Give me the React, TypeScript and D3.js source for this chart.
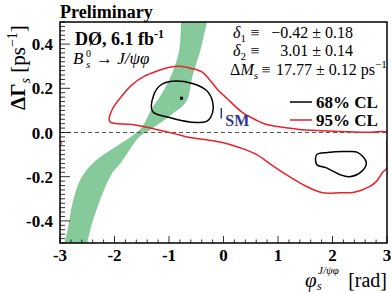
import * as d3 from "d3";

const W = 392;
const H = 292;
const margin = { top: 22, right: 5, bottom: 49, left: 60 };

// phi_s [rad], Delta Gamma_s [ps^-1]
const bandLeft: [number, number][] = [
  [-0.78, 0.55], [-0.81, 0.377], [-0.95, 0.264], [-1.14, 0.173], [-1.3, 0.114],
  [-1.5, 0.023], [-1.6, 0.0], [-1.69, -0.018], [-2.0, -0.068], [-2.37, -0.132],
  [-2.61, -0.205], [-2.77, -0.318], [-2.86, -0.441], [-2.98, -0.55],
];
const bandRight: [number, number][] = [
  [-0.26, 0.55], [-0.42, 0.377], [-0.57, 0.255], [-0.68, 0.141], [-0.95, 0.082],
  [-1.39, 0.005], [-1.54, -0.018], [-1.87, -0.132], [-2.06, -0.191], [-2.31, -0.336],
  [-2.46, -0.455], [-2.53, -0.55],
];

const contour68a: [number, number][] = [
  [-1.3, 0.095], [-1.28, 0.17], [-1.15, 0.215], [-0.94, 0.232], [-0.57, 0.222], [-0.31, 0.19],
  [-0.2, 0.14], [-0.2, 0.09], [-0.31, 0.05], [-0.62, 0.048], [-0.99, 0.068],
];
const contour68b: [number, number][] = [
  [1.71, -0.1], [1.91, -0.09], [2.26, -0.086], [2.46, -0.09], [2.62, -0.136],
  [2.53, -0.177], [2.31, -0.2], [2.13, -0.19], [1.89, -0.16], [1.71, -0.145],
];
const contour95: [number, number][] = [
  [-2.09, 0.05], [-2.04, 0.105], [-1.87, 0.164], [-1.67, 0.218], [-1.45, 0.255],
  [-1.23, 0.277], [-0.99, 0.295], [-0.81, 0.3], [-0.59, 0.29], [-0.39, 0.273],
  [-0.26, 0.24], [-0.11, 0.195], [0.06, 0.155], [0.35, 0.09], [0.57, 0.06],
  [0.79, 0.036], [1.12, 0.023], [1.39, 0.014], [2.13, 0.005], [2.7, 0.001],
  [3.0, 0.0], [3.0, -0.05], [3.0, -0.1], [3.0, -0.16], [2.92, -0.18],
  [2.81, -0.22], [2.68, -0.245], [2.4, -0.27], [2.13, -0.273], [1.82, -0.273],
  [1.49, -0.24], [1.21, -0.2], [0.9, -0.15], [0.61, -0.1], [0.29, -0.068],
  [-0.02, -0.045], [-0.35, -0.032], [-0.62, -0.023], [-0.9, -0.005], [-1.23, 0.014],
  [-1.67, 0.036],
];
const contour95wrap: [number, number][] = [[-3.0, -0.035], [-2.97, -0.045], [-2.99, -0.06]];

const bestFit: [number, number] = [-0.77, 0.155];
const sm = { phi: -0.04, dg: 0.087, err: 0.024 };

const xTickLabels = [-3, -2, -1, 0, 1, 2, 3];
const yTickLabels = ["-0.4", "-0.2", "0.0", "0.2", "0.4"];
const params = [
  { sym: "δ", sub: "1", value: "−0.42 ± 0.18" },
  { sym: "δ", sub: "2", value: "3.01 ± 0.14" },
];

const FONT = "Liberation Serif";

export default function App() {
  const x = d3.scaleLinear([-3, 3], [margin.left, W - margin.right]);
  const y = d3.scaleLinear([-0.5, 0.5], [H - margin.bottom, margin.top]);
  const [x0, x1] = x.range();
  const [y0, y1] = y.range();

  const closed = d3.line<[number, number]>()
    .x(d => x(d[0]))
    .y(d => y(d[1]))
    .curve(d3.curveCatmullRomClosed.alpha(0.5));
  const open = d3.line<[number, number]>()
    .x(d => x(d[0]))
    .y(d => y(d[1]))
    .curve(d3.curveCatmullRom.alpha(0.5));

  const bandPath = open(bandLeft)! + "L" + open([...bandRight].reverse())!.slice(1) + "Z";

  const yMinor = d3.range(-0.5, 0.5001, 0.02);
  const xMinor = d3.range(-3, 3.0001, 0.2);

  return (
    <svg width={W} height={H} style={{ position: "absolute", left: 0, top: 0, background: "#fff" }}>
      <defs>
        <clipPath id="frame">
          <rect x={x0} y={y1} width={x1 - x0} height={y0 - y1} />
        </clipPath>
      </defs>
      <g clipPath="url(#frame)">
        <path d={bandPath} fill="#86c99a" />
        <line x1={x0} x2={x1} y1={y(0)} y2={y(0)} stroke="#444" strokeWidth={0.9} strokeDasharray="4,3" />
        <path d={closed(contour95)!} fill="none" stroke="#e8222a" strokeWidth={1.5} />
        <path d={open(contour95wrap)!} fill="none" stroke="#e8222a" strokeWidth={1} />
        <path d={closed(contour68a)!} fill="none" stroke="#000" strokeWidth={1.5} />
        <path d={closed(contour68b)!} fill="none" stroke="#000" strokeWidth={1.5} />
        <rect x={x(bestFit[0]) - 1.5} y={y(bestFit[1]) - 1.5} width={3} height={3} fill="#000" />
      </g>

      {/* SM point */}
      <line x1={x(sm.phi)} x2={x(sm.phi)} y1={y(sm.dg - sm.err)} y2={y(sm.dg + sm.err)} stroke="#2b3990" strokeWidth={1.5} />
      <text fontFamily={FONT} x={x(sm.phi) + 4} y={126} fontSize={16} fontWeight="bold" fill="#2b3990">SM</text>

      {/* frame & ticks */}
      <rect x={x0} y={y1} width={x1 - x0} height={y0 - y1} fill="none" stroke="#000" strokeWidth={1.5} />
      {yMinor.map((v, i) => {
        const major = Math.abs(Math.round(v * 10) / 10 - v) < 1e-6 && Math.round(v * 10) % 2 === 0;
        return <line key={"yt" + i} x1={x0} x2={x0 + (major ? 10 : 5)} y1={y(v)} y2={y(v)} stroke="#000" strokeWidth={0.8} />;
      })}
      {xMinor.map((v, i) => {
        const major = Math.abs(Math.round(v) - v) < 1e-6;
        return <line key={"xt" + i} x1={x(v)} x2={x(v)} y1={y0} y2={y0 - (major ? 7 : 3.5)} stroke="#000" strokeWidth={0.8} />;
      })}
      {yTickLabels.map(t => (
        <text fontFamily={FONT} key={t} x={53} y={y(+t) + 6} textAnchor="end" fontSize={17} fontWeight="bold">{t}</text>
      ))}
      {xTickLabels.map(t => (
        <text fontFamily={FONT} key={t} x={x(t)} y={261} textAnchor="middle" fontSize={17} fontWeight="bold">{t}</text>
      ))}

      {/* axis titles */}
      <text fontFamily={FONT} transform="translate(25,110) rotate(-90)" fontSize={21}>
        <tspan fontWeight="bold">ΔΓ</tspan>
        <tspan fontSize={14} dy={5} fontStyle="italic">s</tspan>
        <tspan dy={-5}> [ps</tspan>
        <tspan fontSize={14} dy={-8}>−1</tspan>
        <tspan dy={8}>]</tspan>
      </text>
      <text fontFamily={FONT} x={305} y={287} fontSize={21} fontStyle="italic">φ</text>
      <text fontFamily={FONT} x={317} y={290} fontSize={12} fontStyle="italic">s</text>
      <text fontFamily={FONT} x={318} y={274} fontSize={11} fontStyle="italic">J/ψφ</text>
      <text fontFamily={FONT} x={387} y={287} fontSize={20} textAnchor="end">[rad]</text>

      {/* annotations */}
      <text fontFamily={FONT} x={60} y={18} fontSize={18} fontWeight="bold">Preliminary</text>
      <text fontFamily={FONT} x={75} y={45} fontSize={18} fontWeight="bold">
        DØ, 6.1 fb<tspan fontSize={12} dy={-7}>-1</tspan>
      </text>
      <text fontFamily={FONT} x={73} y={64} fontSize={17} fontStyle="italic">B</text>
      <text fontFamily={FONT} x={86} y={57} fontSize={10}>0</text>
      <text fontFamily={FONT} x={86} y={68} fontSize={11} fontStyle="italic">s</text>
      <text fontFamily={FONT} x={96} y={64} fontSize={17}>→ <tspan fontStyle="italic">J/ψφ</tspan></text>

      {params.map((p, i) => (
        <g key={i}>
          <text fontFamily={FONT} x={246} y={38 + i * 18} textAnchor="end" fontSize={16}>
            <tspan fontStyle="italic">{p.sym}</tspan>
            <tspan fontSize={11} dy={4}>{p.sub}</tspan>
          </text>
          <text fontFamily={FONT} x={255} y={38 + i * 18} textAnchor="middle" fontSize={16}>≡</text>
          <text fontFamily={FONT} x={353} y={38 + i * 18} textAnchor="end" fontSize={16}>{p.value}</text>
        </g>
      ))}
      <text fontFamily={FONT} x={258} y={75} textAnchor="end" fontSize={16}>
        Δ<tspan fontStyle="italic">M</tspan>
        <tspan fontSize={11} dy={4} fontStyle="italic">s</tspan>
      </text>
      <text fontFamily={FONT} x={266} y={75} textAnchor="middle" fontSize={16}>≡</text>
      <text fontFamily={FONT} x={276} y={75} fontSize={16}>
        17.77 ± 0.12 ps<tspan fontSize={11} dy={-7}>−1</tspan>
      </text>

      {/* legend */}
      <line x1={290} x2={312} y1={102} y2={102} stroke="#000" strokeWidth={1.5} />
      <text fontFamily={FONT} x={316} y={108} fontSize={17} fontWeight="bold">68% CL</text>
      <line x1={290} x2={312} y1={120} y2={120} stroke="#e8222a" strokeWidth={1.5} />
      <text fontFamily={FONT} x={316} y={126} fontSize={17} fontWeight="bold">95% CL</text>
    </svg>
  );
}
